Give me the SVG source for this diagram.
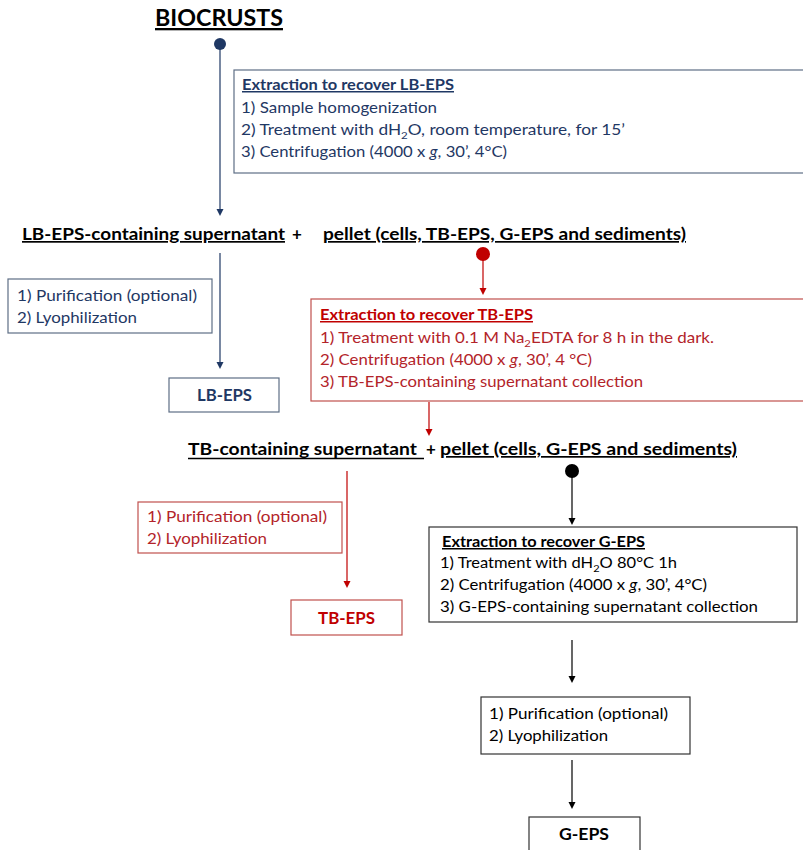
<svg xmlns="http://www.w3.org/2000/svg" width="803" height="850" viewBox="0 0 803 850">
<defs>
<style>
text{font-family:Lato,"Liberation Sans",sans-serif;font-size:15px}
.b{font-weight:bold}
.u{text-decoration:underline}
.navy{fill:#1F3864}
.red{fill:#B3242A}
.redt{fill:#C00000}
.blk{fill:#000}
.bxn{fill:#fff;stroke:#5E6E85;stroke-width:1.2}
.bxr{fill:#fff;stroke:#C0504D;stroke-width:1.2}
.bxk{fill:#fff;stroke:#333;stroke-width:1.2}
.ln{fill:none;stroke-width:1.2}
.big{font-size:17px}
.sub{font-size:10px}
</style>
</defs>
<g id="connectors">
<line class="ln" x1="220" y1="44" x2="220" y2="209" stroke="#1F3864"/>
<path d="M216.5,209 L223.5,209 L220,216 z" fill="#1F3864"/>
<line class="ln" x1="220" y1="253" x2="220" y2="362" stroke="#1F3864"/>
<path d="M216.5,362 L223.5,362 L220,369 z" fill="#1F3864"/>
<line class="ln" x1="483" y1="254" x2="483" y2="288" stroke="#C00000"/>
<path d="M479.5,288 L486.5,288 L483,295 z" fill="#C00000"/>
<line class="ln" x1="429" y1="402" x2="429" y2="429" stroke="#C00000"/>
<path d="M425.5,429 L432.5,429 L429,436 z" fill="#C00000"/>
<line class="ln" x1="347" y1="471" x2="347" y2="581" stroke="#C00000"/>
<path d="M343.5,581 L350.5,581 L347,588 z" fill="#C00000"/>
<line class="ln" x1="572" y1="471" x2="572" y2="518" stroke="#000"/>
<path d="M568.5,518 L575.5,518 L572,525 z" fill="#000"/>
<line class="ln" x1="572" y1="640" x2="572" y2="676" stroke="#000"/>
<path d="M568.5,676 L575.5,676 L572,683 z" fill="#000"/>
<line class="ln" x1="572" y1="760" x2="572" y2="802" stroke="#000"/>
<path d="M568.5,802 L575.5,802 L572,809 z" fill="#000"/>
<circle cx="220" cy="44" r="6" fill="#1F3864"/>
<circle cx="483" cy="254" r="7" fill="#C00000"/>
<circle cx="572" cy="471" r="7" fill="#000"/>
</g>
<g id="biocrusts">
<text class="b u blk" x="155" y="26" style="font-size:23px" textLength="128" lengthAdjust="spacingAndGlyphs">BIOCRUSTS</text>
</g>
<g id="lb-extraction">
<rect class="bxn" x="234" y="70" width="580" height="103"/>
<text class="b u navy" x="242" y="90" textLength="212" lengthAdjust="spacingAndGlyphs">Extraction  to recover LB-EPS</text>
<text class="navy" x="241" y="113" textLength="196" lengthAdjust="spacingAndGlyphs">1) Sample homogenization</text>
<text class="navy" x="241" y="135" textLength="384" lengthAdjust="spacingAndGlyphs">2) Treatment with dH<tspan class="sub" dy="4">2</tspan><tspan dy="-4">O, room temperature,  for 15’</tspan></text>
<text class="navy" x="241" y="157" textLength="266" lengthAdjust="spacingAndGlyphs">3) Centrifugation (4000 x <tspan font-style="italic">g</tspan>, 30’, 4°C)</text>
</g>
<g id="row1">
<text class="b u blk big" x="22" y="240" textLength="263" lengthAdjust="spacingAndGlyphs">LB-EPS-containing supernatant</text>
<text class="b blk big" x="292" y="240">+</text>
<text class="b u blk big" x="323" y="240" textLength="363" lengthAdjust="spacingAndGlyphs">pellet (cells, TB-EPS, G-EPS and sediments)</text>
</g>
<g id="lb-purification">
<rect class="bxn" x="8" y="279" width="204" height="54"/>
<text class="navy" x="17" y="301" textLength="180" lengthAdjust="spacingAndGlyphs">1) Purification (optional)</text>
<text class="navy" x="17" y="323" textLength="120" lengthAdjust="spacingAndGlyphs">2) Lyophilization</text>
</g>
<g id="lb-eps">
<rect class="bxn" x="169" y="378" width="110" height="34"/>
<text class="b navy big" x="197" y="401" textLength="55" lengthAdjust="spacingAndGlyphs">LB-EPS</text>
</g>
<g id="tb-extraction">
<rect class="bxr" x="311" y="299" width="500" height="102"/>
<text class="b u redt" x="320" y="320" textLength="213" lengthAdjust="spacingAndGlyphs">Extraction  to recover TB-EPS</text>
<text class="red" x="320" y="343" textLength="394" lengthAdjust="spacingAndGlyphs">1) Treatment with 0.1 M Na<tspan class="sub" dy="4">2</tspan><tspan dy="-4">EDTA  for 8 h in the dark.</tspan></text>
<text class="red" x="320" y="365" textLength="272" lengthAdjust="spacingAndGlyphs">2) Centrifugation (4000 x <tspan font-style="italic">g</tspan>, 30’, 4 °C)</text>
<text class="red" x="320" y="387" textLength="323" lengthAdjust="spacingAndGlyphs">3) TB-EPS-containing supernatant collection</text>
</g>
<g id="row2">
<text class="b blk big" x="188" y="455" textLength="229" lengthAdjust="spacingAndGlyphs">TB-containing supernatant</text>
<line x1="188" y1="458.5" x2="424" y2="458.5" stroke="#000" stroke-width="1.3"/>
<text class="b blk big" x="426" y="455">+</text>
<text class="b u blk big" x="440" y="455" textLength="297" lengthAdjust="spacingAndGlyphs">pellet (cells, G-EPS and sediments)</text>
</g>
<g id="tb-purification">
<rect class="bxr" x="138" y="502" width="204" height="51"/>
<text class="red" x="147" y="522" textLength="180" lengthAdjust="spacingAndGlyphs">1) Purification (optional)</text>
<text class="red" x="147" y="544" textLength="120" lengthAdjust="spacingAndGlyphs">2) Lyophilization</text>
</g>
<g id="tb-eps">
<rect class="bxr" x="291" y="600" width="111" height="35"/>
<text class="b redt big" x="318" y="624" textLength="57" lengthAdjust="spacingAndGlyphs">TB-EPS</text>
</g>
<g id="g-extraction">
<rect class="bxk" x="429" y="527" width="368" height="95"/>
<text class="b u blk" x="442" y="547" textLength="203" lengthAdjust="spacingAndGlyphs">Extraction  to recover G-EPS</text>
<text class="blk" x="440" y="568" textLength="237" lengthAdjust="spacingAndGlyphs">1) Treatment with dH<tspan class="sub" dy="4">2</tspan><tspan dy="-4">O 80°C 1h</tspan></text>
<text class="blk" x="440" y="590" textLength="267" lengthAdjust="spacingAndGlyphs">2) Centrifugation (4000 x <tspan font-style="italic">g</tspan>, 30’, 4°C)</text>
<text class="blk" x="440" y="612" textLength="318" lengthAdjust="spacingAndGlyphs">3)  G-EPS-containing supernatant collection</text>
</g>
<g id="g-purification">
<rect class="bxk" x="481" y="697" width="209" height="57"/>
<text class="blk" x="489" y="719" textLength="179" lengthAdjust="spacingAndGlyphs">1) Purification (optional)</text>
<text class="blk" x="489" y="741" textLength="119" lengthAdjust="spacingAndGlyphs">2) Lyophilization</text>
</g>
<g id="g-eps">
<rect class="bxk" x="529" y="817" width="111" height="40"/>
<text class="b blk big" x="559" y="840" textLength="50" lengthAdjust="spacingAndGlyphs">G-EPS</text>
</g>
</svg>
